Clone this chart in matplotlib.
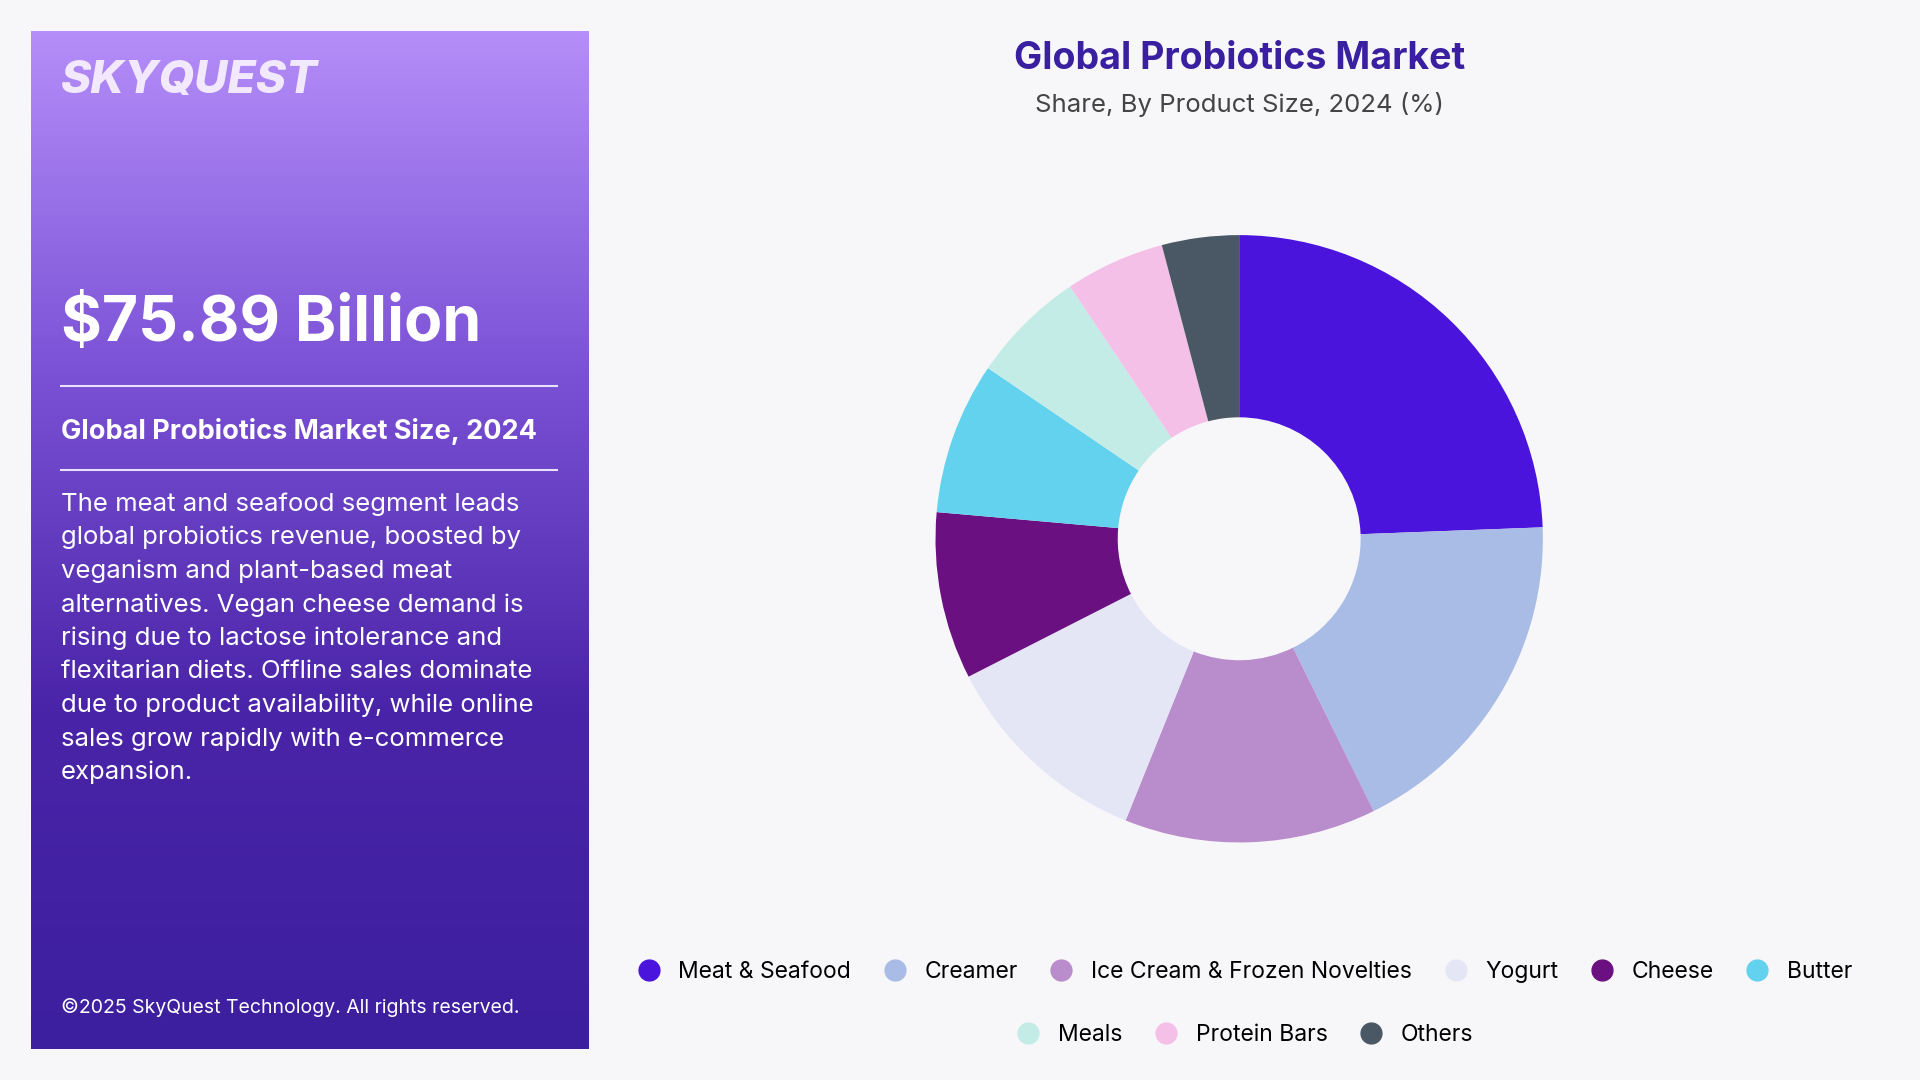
import numpy as np
import matplotlib
matplotlib.use("Agg")
import matplotlib.pyplot as plt
from matplotlib.colors import LinearSegmentedColormap

plt.rcParams['font.family'] = ['Inter', 'DejaVu Sans']

categories = ["Meat & Seafood", "Creamer", "Ice Cream & Frozen Novelties", "Yogurt",
              "Cheese", "Butter", "Meals", "Protein Bars", "Others"]
shares = [24.4, 18.3, 13.4, 11.4, 8.9, 8.1, 6.1, 5.3, 4.1]
colors = ["#4a14dc", "#a8bce6", "#b98ccc", "#e4e6f6", "#6a1080",
          "#62d2ee", "#c4ece6", "#f4c0e8", "#4a5866"]

W, H = 1568, 882
fig = plt.figure(figsize=(19.2, 10.8), dpi=100)
fig.patch.set_facecolor("#f7f7f9")

# left gradient panel
pan = fig.add_axes([25 / W, 1 - 857 / H, 455 / W, 832 / H])
cmap = LinearSegmentedColormap.from_list("g", ["#b58ef9", "#7b52d6", "#4a24a8", "#3c1f9e"])
grad = np.linspace(0, 1, 256).reshape(-1, 1)
pan.imshow(grad, aspect="auto", cmap=cmap, extent=[0, 1, 0, 1], origin="upper")
pan.set_xlim(0, 1); pan.set_ylim(0, 1); pan.axis("off")

def px(x, y):
    return x / W, 1 - y / H

fig.text(*px(50, 66), "SKYQUEST", color="#f3e9ff", fontsize=33, fontweight="heavy",
         fontstyle="italic", va="center")
fig.text(*px(50, 265), "$75.89 Billion", color="white", fontsize=45, fontweight="bold", va="center")
fig.add_artist(plt.Line2D([50 / W, 455 / W], [1 - 315 / H] * 2, color="#e8e0ff", lw=1.5))
fig.text(*px(50, 352), "Global Probiotics Market Size, 2024", color="white", fontsize=19.5,
         fontweight="bold", va="center")
fig.add_artist(plt.Line2D([50 / W, 455 / W], [1 - 384 / H] * 2, color="#e8e0ff", lw=1.5))
body = ("The meat and seafood segment leads\nglobal probiotics revenue, boosted by\n"
        "veganism and plant-based meat\nalternatives. Vegan cheese demand is\n"
        "rising due to lactose intolerance and\nflexitarian diets. Offline sales dominate\n"
        "due to product availability, while online\nsales grow rapidly with e-commerce\nexpansion.")
fig.text(*px(50, 402), body, color="white", fontsize=18.5, va="top", linespacing=1.55)
fig.text(*px(50, 823), "©2025 SkyQuest Technology. All rights reserved.", color="white",
         fontsize=14, va="center")

# titles
fig.text(*px(1012, 48), "Global Probiotics Market", color="#3a1fa0", fontsize=27,
         fontweight="bold", ha="center", va="center")
fig.text(*px(1012, 85), "Share, By Product Size, 2024 (%)", color="#444444", fontsize=18.5,
         ha="center", va="center")

# donut
R = 248
ax = fig.add_axes([(1012 - R) / W, 1 - (440 + R) / H, 2 * R / W, 2 * R / H])
ax.pie(shares, colors=colors, startangle=90, counterclock=False,
       wedgeprops=dict(width=0.6, edgecolor="none"))
ax.set_xlim(-1, 1); ax.set_ylim(-1, 1)
ax.set_aspect("auto")

# legend
h = [plt.Line2D([], [], marker="o", ls="", markersize=15, color=c) for c in colors]
fig.legend(h[:6], categories[:6], loc="center", bbox_to_anchor=(1012 / W, 1 - 794 / H), ncol=6,
           frameon=False, fontsize=16.5, handletextpad=0.3, columnspacing=0.9)
fig.legend(h[6:], categories[6:], loc="center", bbox_to_anchor=(1012 / W, 1 - 845 / H), ncol=3,
           frameon=False, fontsize=16.5, handletextpad=0.3, columnspacing=0.9)

fig.savefig("out.png", dpi=100, facecolor=fig.get_facecolor())
